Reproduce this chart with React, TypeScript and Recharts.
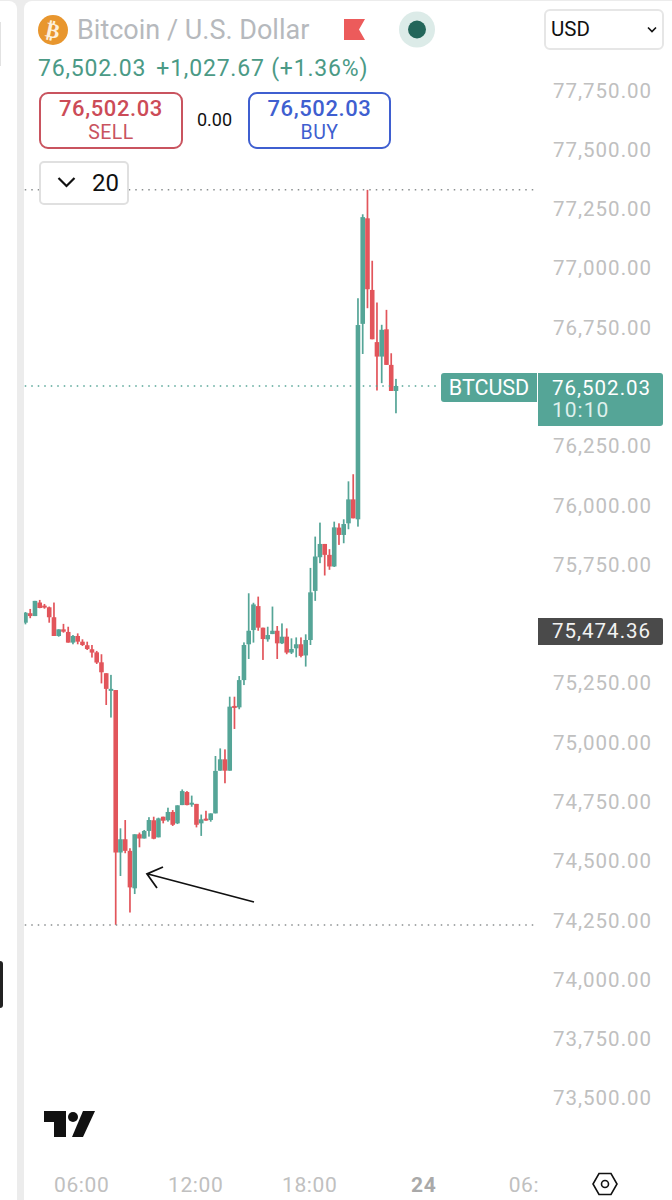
import React from "react";
import { ComposedChart, XAxis, YAxis, Bar, ReferenceLine } from "recharts";

const hours = [3,3.25,3.5,3.75,4,4.25,4.5,4.75,5,5.25,5.5,5.75,6,6.25,6.5,6.75,7,7.25,7.5,7.75,8,8.25,8.5,8.75,9,9.25,9.5,9.75,10,10.25,10.5,10.75,11,11.25,11.5,11.75,12,12.25,12.5,12.75,13,13.25,13.5,13.75,14,14.25,14.5,14.75,15,15.25,15.5,15.75,16,16.25,16.5,16.75,17,17.25,17.5,17.75,18,18.25,18.5,18.75,19,19.25,19.5,19.75,20,20.25,20.5,20.75,21,21.25,21.5,21.75,22,22.25,22.5];
const opens = [75504,75544,75532,75589,75576,75569,75527,75448,75476,75465,75420,75448,75424,75409,75392,75379,75337,75291,75222,75220,74535,74591,74542,74384,74612,74594,74626,74671,74599,74686,74671,74706,74658,74735,74790,74738,74740,74658,74678,74672,74700,74880,74928,74880,75153,75147,75262,75413,75473,75574,75483,75434,75456,75470,75417,75445,75378,75396,75413,75366,75431,75638,75780,75836,75790,75741,75905,75874,75923,76024,75940,76764,77209,76907,76687,76626,76741,76591,76481];
const highs = [75549,75562,75596,75600,75583,75572,75589,75476,75499,75487,75452,75459,75434,75424,75410,75385,75371,75291,75284,75220,74637,74672,74553,74612,74619,74630,74684,74686,74682,74686,74724,74714,74734,74801,74794,74775,74740,74695,74711,74700,74942,74974,74970,75192,75192,75279,75421,75628,75588,75614,75483,75487,75572,75490,75501,75480,75438,75442,75442,75455,75735,75867,75926,75836,75814,75930,75923,75940,76100,76130,76872,77226,77329,77030,76854,76760,76823,76640,76532];
const lows = [75497,75523,75532,75565,75563,75504,75448,75445,75462,75420,75413,75413,75406,75389,75357,75330,75248,75157,75104,74230,74436,74532,74282,74360,74557,74594,74602,74591,74599,74658,74665,74647,74655,74735,74734,74728,74641,74605,74669,74665,74700,74880,74827,74880,75056,75139,75241,75351,75420,75470,75347,75424,75456,75351,75414,75371,75372,75358,75358,75319,75410,75596,75755,75703,75727,75739,75832,75839,75898,75944,75909,76637,76830,76699,76483,76514,76591,76481,76387];
const closes = [75546,75532,75596,75566,75568,75527,75448,75476,75466,75420,75448,75424,75410,75393,75378,75336,75295,75225,75225,74535,74591,74542,74388,74612,74594,74626,74672,74593,74679,74669,74706,74652,74734,74794,74735,74745,74652,74675,74672,74700,74879,74928,74880,75150,75147,75262,75410,75470,75581,75483,75435,75452,75470,75417,75445,75378,75393,75413,75364,75431,75632,75783,75836,75790,75741,75906,75874,75920,76024,75944,76759,77214,76910,76699,76626,76739,76591,76481,76502.03];

const priceTicks = [77750,77500,77250,77000,76750,76250,76000,75750,75250,75000,74750,74500,74250,74000,73750,73500];
const timeTicks = [6,12,18,24,30];
const timeLabels = ["06:00","12:00","18:00","24","06:"];
const highLine = 77329;
const lowLine = 74229;
const lastPrice = 76502.03;

const UP = "#55a597";
const DOWN = "#e2555b";

const rows = hours.map((t, i) => ({ t, open: opens[i], close: closes[i], range: [lows[i], highs[i]] }));

function Candle(props: any) {
  const { x, y, width, height, payload } = props;
  const [low, high] = payload.range;
  const up = payload.close >= payload.open;
  const color = up ? UP : DOWN;
  const cx = x + width / 2;
  const perUnit = height / (high - low);
  const top = y + (high - Math.max(payload.open, payload.close)) * perUnit;
  const bodyH = Math.max(2, Math.abs(payload.close - payload.open) * perUnit);
  return (
    <g>
      <rect x={cx - 0.85} y={y} width={1.7} height={height} fill={color} />
      <rect x={cx - 2.3} y={top} width={4.6} height={bodyH} fill={color} />
    </g>
  );
}

function PriceTick(props: any) {
  const { y, payload } = props;
  return (
    <text x={553} y={y} dy={7.5} fontFamily="Roboto" fontSize={20.5} letterSpacing={1} fill="#c0c0c0">
      {payload.value.toLocaleString("en-US", { minimumFractionDigits: 2 })}
    </text>
  );
}

function TimeTick(props: any) {
  const { x, y, payload } = props;
  const idx = timeTicks.indexOf(payload.value);
  const isDay = payload.value === 24;
  const isCut = payload.value === 30;
  return (
    <text
      x={isCut ? x - 30 : x - 1}
      y={y}
      textAnchor={isCut ? "start" : "middle"}
      fontFamily="Roboto"
      fontSize={21}
      fontWeight={isDay ? 700 : 400}
      fill={isDay ? "#a9a9a9" : "#c0c0c0"}
      letterSpacing={0.6}
    >
      {timeLabels[idx]}
    </text>
  );
}

const abs = (x: number, y: number, w: number, h: number): React.CSSProperties => ({
  position: "absolute", left: x, top: y, width: w, height: h, boxSizing: "border-box",
});
const line = (x: number, y: number, w: number, h: number, size: number, color: string, extra: React.CSSProperties = {}): React.CSSProperties => ({
  ...abs(x, y, w, h), fontSize: size, color, lineHeight: `${h}px`, whiteSpace: "nowrap", ...extra,
});

export default function App() {
  return (
    <div style={{ position: "absolute", left: 0, top: 0, width: 672, height: 1200, overflow: "hidden", background: "#ececec", fontFamily: "Roboto" }}>
      {/* neighbouring panel and chart card */}
      <div style={{ ...abs(-20, 1, 37, 1199), background: "#fff", borderTopRightRadius: 8 }} />
      <div style={{ ...abs(0, 22, 1, 44), background: "#e2e2e2" }} />
      <div style={{ ...abs(-8, 961, 11, 47), background: "#222", borderRadius: 3 }} />
      <div style={{ ...abs(24, 1, 660, 1199), background: "#fff", borderTopLeftRadius: 8 }} />

      <div style={{ ...abs(0, 0, 672, 1200) }}>
        <ComposedChart width={672} height={1200} data={rows} margin={{ top: 0, right: 0, bottom: 0, left: 24 }}>
          <XAxis
            dataKey="t" type="number" domain={[2.9105, 29.963]} ticks={timeTicks} allowDataOverflow
            height={60} tick={<TimeTick />} tickLine={false} axisLine={false} interval={0}
            tickMargin={46}
          />
          <YAxis
            orientation="right" type="number" domain={[73322.9, 78129.47]} ticks={priceTicks} allowDataOverflow
            width={134} tick={<PriceTick />} tickLine={false} axisLine={false} interval={0}
          />
          <ReferenceLine stroke="#8b8f90" strokeWidth={1.5} strokeDasharray="1.5 5" segment={[{ x: 2.95, y: highLine }, { x: 29.85, y: highLine }]} />
          <ReferenceLine stroke="#8b8f90" strokeWidth={1.5} strokeDasharray="1.5 5" segment={[{ x: 2.95, y: lowLine }, { x: 29.85, y: lowLine }]} />
          <ReferenceLine stroke="#55a597" strokeWidth={1.5} strokeDasharray="1.5 5" segment={[{ x: 2.95, y: lastPrice }, { x: 24.8, y: lastPrice }]} />
          <Bar dataKey="range" barSize={5} shape={<Candle />} isAnimationActive={false} />
        </ComposedChart>
      </div>

      {/* header */}
      <svg style={abs(38, 15, 30, 30)} viewBox="0 0 30 30">
        <circle cx="15" cy="15" r="15" fill="#e8962e" />
        <text x="15" y="22.5" textAnchor="middle" fontFamily="Roboto" fontWeight={700} fontSize={21} fill="#fdf0dc" transform="rotate(12 15 15)">₿</text>
      </svg>
      <div style={line(77, 13, 250, 34, 27, "#b6b9bd")}>Bitcoin / U.S. Dollar</div>
      <svg style={abs(344, 19, 22, 21)} viewBox="0 0 22 21">
        <path d="M0 0H21L15 10.5L21 21H0Z" fill="#ec5b5b" />
      </svg>
      <svg style={abs(399, 11, 36, 37)} viewBox="0 0 36 37">
        <circle cx="18" cy="18.5" r="18" fill="#dcebe8" />
        <circle cx="18" cy="18.5" r="9" fill="#23665a" />
      </svg>
      <div style={line(38, 56, 340, 26, 23, "#4b9a86", { letterSpacing: 0.8 })}>
        76,502.03<span style={{ marginLeft: 10 }}>+1,027.67 (+1.36%)</span>
      </div>

      <div style={{ ...abs(39, 92, 144, 57), border: "2px solid #c9545f", borderRadius: 9 }} />
      <div style={line(39, 97, 144, 24, 22, "#cc4b57", { textAlign: "center", fontWeight: 500, letterSpacing: 0.6 })}>76,502.03</div>
      <div style={line(39, 123, 144, 20, 19.5, "#c9545f", { textAlign: "center", letterSpacing: 0.5 })}>SELL</div>
      <div style={line(197, 108, 40, 24, 18, "#111")}>0.00</div>
      <div style={{ ...abs(248, 92, 143, 57), border: "2px solid #3f5fd0", borderRadius: 9 }} />
      <div style={line(248, 97, 143, 24, 22, "#3f5fd0", { textAlign: "center", fontWeight: 500, letterSpacing: 0.6 })}>76,502.03</div>
      <div style={line(248, 123, 143, 20, 19.5, "#3f5fd0", { textAlign: "center", letterSpacing: 0.5 })}>BUY</div>

      <div style={{ ...abs(39, 161, 90, 44), border: "2px solid #e0e0e0", borderRadius: 5, background: "#fff" }} />
      <svg style={abs(57, 176, 19, 12)} viewBox="0 0 19 12">
        <path d="M1.5 2L9.5 10L17.5 2" fill="none" stroke="#111" strokeWidth={2.2} />
      </svg>
      <div style={line(92, 168, 34, 30, 24, "#111")}>20</div>

      <div style={{ ...abs(544, 9, 120, 41), border: "2px solid #e6e6e6", borderRadius: 6 }} />
      <div style={line(551, 16, 50, 26, 20.5, "#111")}>USD</div>
      <svg style={abs(647, 26, 10, 7)} viewBox="0 0 10 7">
        <path d="M1 1.5L5 5.5L9 1.5" fill="none" stroke="#111" strokeWidth={1.6} />
      </svg>

      {/* price tags */}
      <div style={{ ...abs(441, 373, 96, 29), background: "#55a597", borderRadius: "3px 0 0 3px" }} />
      <div style={line(441, 373, 96, 29, 21.5, "#fff", { textAlign: "center" })}>BTCUSD</div>
      <div style={{ ...abs(538, 373, 125, 53), background: "#55a597", borderRadius: "0 3px 3px 0" }} />
      <div style={line(552, 375, 110, 26, 20.5, "#fff", { letterSpacing: 1 })}>76,502.03</div>
      <div style={line(552, 398, 110, 24, 21, "#dff0ec", { letterSpacing: 1 })}>10:10</div>
      <div style={{ ...abs(538, 618, 125, 27), background: "#4a4a4a", borderRadius: "0 2px 2px 0" }} />
      <div style={line(552, 618, 110, 27, 20.5, "#f2f2f2", { letterSpacing: 1 })}>75,474.36</div>

      {/* annotation arrow */}
      <svg style={abs(140, 860, 120, 50)} viewBox="140 860 120 50">
        <path d="M254 902L148 874M163 867L147 874L157 888" fill="none" stroke="#111" strokeWidth={1.8} />
      </svg>

      {/* logo */}
      <svg style={abs(44, 1111, 51, 26)} viewBox="0 0 51 26">
        <path d="M0 0H22V26H10V11H0Z" fill="#111" />
        <circle cx="29" cy="6" r="5" fill="#111" />
        <path d="M39 0H51L39 26H28Z" fill="#111" />
      </svg>
      <svg style={abs(592, 1171, 26, 26)} viewBox="0 0 26 26">
        <path d="M7 2.5H19L25 13L19 23.5H7L1 13Z" fill="none" stroke="#111" strokeWidth={1.6} />
        <circle cx="13" cy="13" r="3.5" fill="none" stroke="#111" strokeWidth={1.6} />
      </svg>
    </div>
  );
}
